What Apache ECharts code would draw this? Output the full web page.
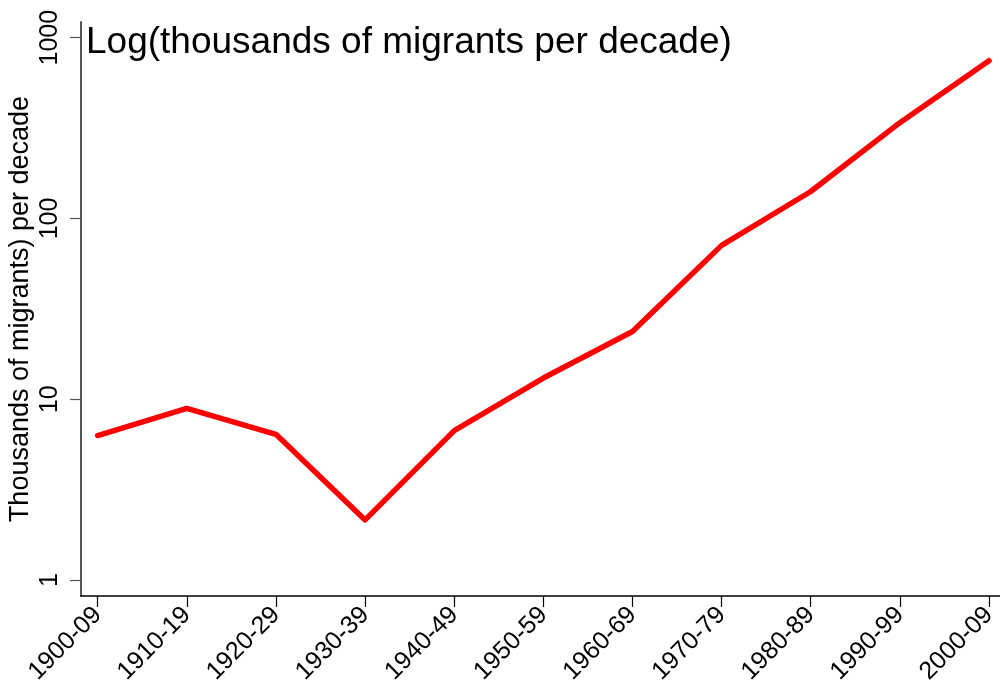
<!DOCTYPE html>
<html>
<head>
<meta charset="utf-8">
<script src="https://cdn.jsdelivr.net/npm/echarts@6/dist/echarts.min.js"></script>
<style>
html,body{margin:0;padding:0;background:#fff;}
#chart{width:1000px;height:689px;}
</style>
</head>
<body>
<div id="chart"></div>
<script>
const categories = ['1900-09','1910-19','1920-29','1930-39','1940-49','1950-59','1960-69','1970-79','1980-89','1990-99','2000-09'];
const migrants = [6.3, 8.9, 6.4, 2.15, 6.7, 13.1, 23.7, 71, 141, 339, 746];
const yTicks = [1, 10, 100, 1000];
const xTicks = categories.map((c, i) => i);

const chart = echarts.init(document.getElementById('chart'), null, {renderer: 'canvas'});
const FONT = '"Liberation Sans", Arial, sans-serif';
chart.setOption({
  animation: false,
  backgroundColor: '#ffffff',
  title: {
    text: 'Log(thousands of migrants per decade)',
    left: 86, top: 24, padding: 0,
    textStyle: {fontFamily: FONT, fontSize: 37, fontWeight: 'normal', color: '#000'}
  },
  grid: {left: 81, right: 0, top: 22, bottom: 93, containLabel: false, outerBoundsMode: 'none'},
  xAxis: {
    type: 'value',
    min: -0.1874, max: 10.1234,
    splitLine: {show: false},
    axisLine: {show: true, onZero: false, lineStyle: {color: '#000', width: 1.5}},
    axisTick: {show: true, customValues: xTicks, length: 11, lineStyle: {color: '#000', width: 1.2}},
    axisLabel: {
      customValues: xTicks, rotate: 45, margin: 15,
      fontFamily: FONT, fontSize: 25, color: '#000',
      formatter: v => categories[Math.round(v)]
    }
  },
  yAxis: {
    type: 'log', logBase: 10,
    min: 0.8156, max: 1221.7,
    name: 'Thousands of migrants) per decade',
    nameLocation: 'middle', nameGap: 47, nameRotate: 90, nameMoveOverlap: false,
    nameTextStyle: {fontFamily: FONT, fontSize: 27, color: '#000'},
    splitLine: {show: false},
    axisLine: {show: true, onZero: false, lineStyle: {color: '#555', width: 2}},
    axisTick: {show: true, customValues: yTicks, length: 11, lineStyle: {color: '#555', width: 1.2}},
    axisLabel: {
      customValues: yTicks, rotate: 90, margin: 18,
      fontFamily: FONT, fontSize: 25, color: '#000',
      formatter: v => String(Math.round(v))
    }
  },
  series: [{
    type: 'line',
    data: migrants.map((v, i) => [i, v]),
    showSymbol: false, symbol: 'none',
    lineStyle: {color: '#ff0000', width: 5.5, cap: 'round', join: 'round'},
    itemStyle: {color: '#ff0000'}
  }]
});
</script>
</body>
</html>
